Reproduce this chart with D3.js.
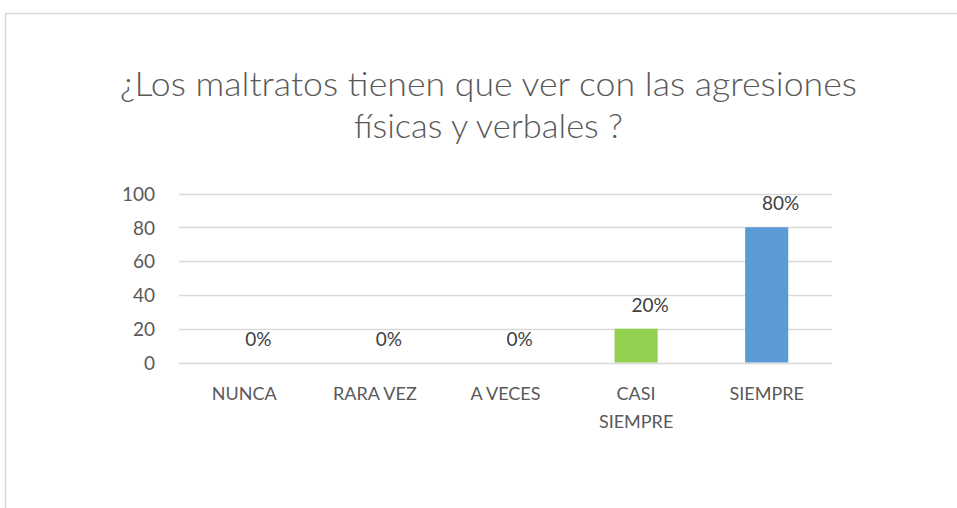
<!DOCTYPE html>
<html><head><meta charset="utf-8">
<script src="https://cdn.jsdelivr.net/npm/d3@7"></script>
<style>
html,body{margin:0;padding:0;background:#fff;}
svg{display:block;font-family:Lato,"Open Sans",sans-serif;}
</style></head>
<body><svg id="chart" width="957" height="508"></svg>
<script>
const titleLines = ["¿Los maltratos tienen que ver con las agresiones", "físicas y verbales ?"];
const categories = ["NUNCA", "RARA VEZ", "A VECES", "CASI SIEMPRE", "SIEMPRE"];
const values = [0, 0, 0, 20, 80];
const barColors = ["#5b9bd5", "#5b9bd5", "#5b9bd5", "#92d050", "#5b9bd5"];
const yTicks = [0, 20, 40, 60, 80, 100];

const svg = d3.select("#chart");
const textColor = "#595959";
const gridColor = "#d9d9d9";

// outer chart border
svg.append("rect").attr("x", 5.5).attr("y", 13.5).attr("width", 1000).attr("height", 600)
  .attr("fill", "#fff").attr("stroke", gridColor).attr("stroke-width", 1.5);

// title
const title = svg.append("g");
const titleW = [737, 269];
titleLines.forEach((t, i) => {
  title.append("text").attr("x", 488.5).attr("y", 96 + i * 42)
    .attr("text-anchor", "middle").attr("fill", textColor)
    .style("font-size", "33px").style("font-weight", 300)
    .attr("textLength", titleW[i]).attr("lengthAdjust", "spacingAndGlyphs")
    .text(t);
});

const x = d3.scaleBand().domain(categories).range([179, 832]).paddingInner(0.67).paddingOuter(0.335);
const y = d3.scaleLinear().domain([0, 100]).range([362.5, 193.5]);

// gridlines
svg.append("g").selectAll("line").data(yTicks).join("line")
  .attr("x1", 179).attr("x2", 832)
  .attr("y1", d => Math.round(y(d)) + 0.5).attr("y2", d => Math.round(y(d)) + 0.5)
  .attr("stroke", gridColor).attr("stroke-width", 1.5);

// y axis labels
const yAxis = d3.axisLeft(y).tickValues(yTicks).tickSize(0).tickPadding(0);
const yg = svg.append("g").attr("transform", "translate(155,0)").call(yAxis);
yg.select(".domain").remove();
yg.selectAll("text").attr("fill", textColor).style("font-size", "19px")
  .style("font-family", "Lato,'Open Sans',sans-serif").attr("dy", "0.36em");

// bars
svg.append("g").selectAll("rect").data(values).join("rect")
  .attr("x", (d, i) => x(categories[i]))
  .attr("y", d => y(d))
  .attr("width", x.bandwidth())
  .attr("height", d => y(0) - y(d))
  .attr("fill", (d, i) => barColors[i]);

// value labels
svg.append("g").selectAll("text").data(values).join("text")
  .attr("x", (d, i) => x(categories[i]) + x.bandwidth() / 2 + 14)
  .attr("y", d => y(d) - 17)
  .attr("text-anchor", "middle").attr("fill", "#404040")
  .style("font-size", "19px")
  .text(d => d + "%");

// x axis labels with wrapping
const xAxis = d3.axisBottom(x).tickSize(0).tickPadding(0);
const xg = svg.append("g").attr("transform", "translate(0,387)").call(xAxis);
xg.select(".domain").remove();
xg.selectAll("text").attr("fill", textColor).style("font-size", "18px")
  .style("font-family", "Lato,'Open Sans',sans-serif")
  .each(function() {
    const t = d3.select(this);
    const words = t.text().split(/\s+/);
    t.text(null);
    const maxW = x.step() * 0.82;
    let line = [];
    let tspan = t.append("tspan").attr("x", 0).attr("dy", "0.71em");
    words.forEach(w => {
      line.push(w);
      tspan.text(line.join(" "));
      if (tspan.node().getComputedTextLength() > maxW && line.length > 1) {
        line.pop();
        tspan.text(line.join(" "));
        line = [w];
        tspan = t.append("tspan").attr("x", 0).attr("dy", "28px").text(w);
      }
    });
  });
</script>
</body></html>
